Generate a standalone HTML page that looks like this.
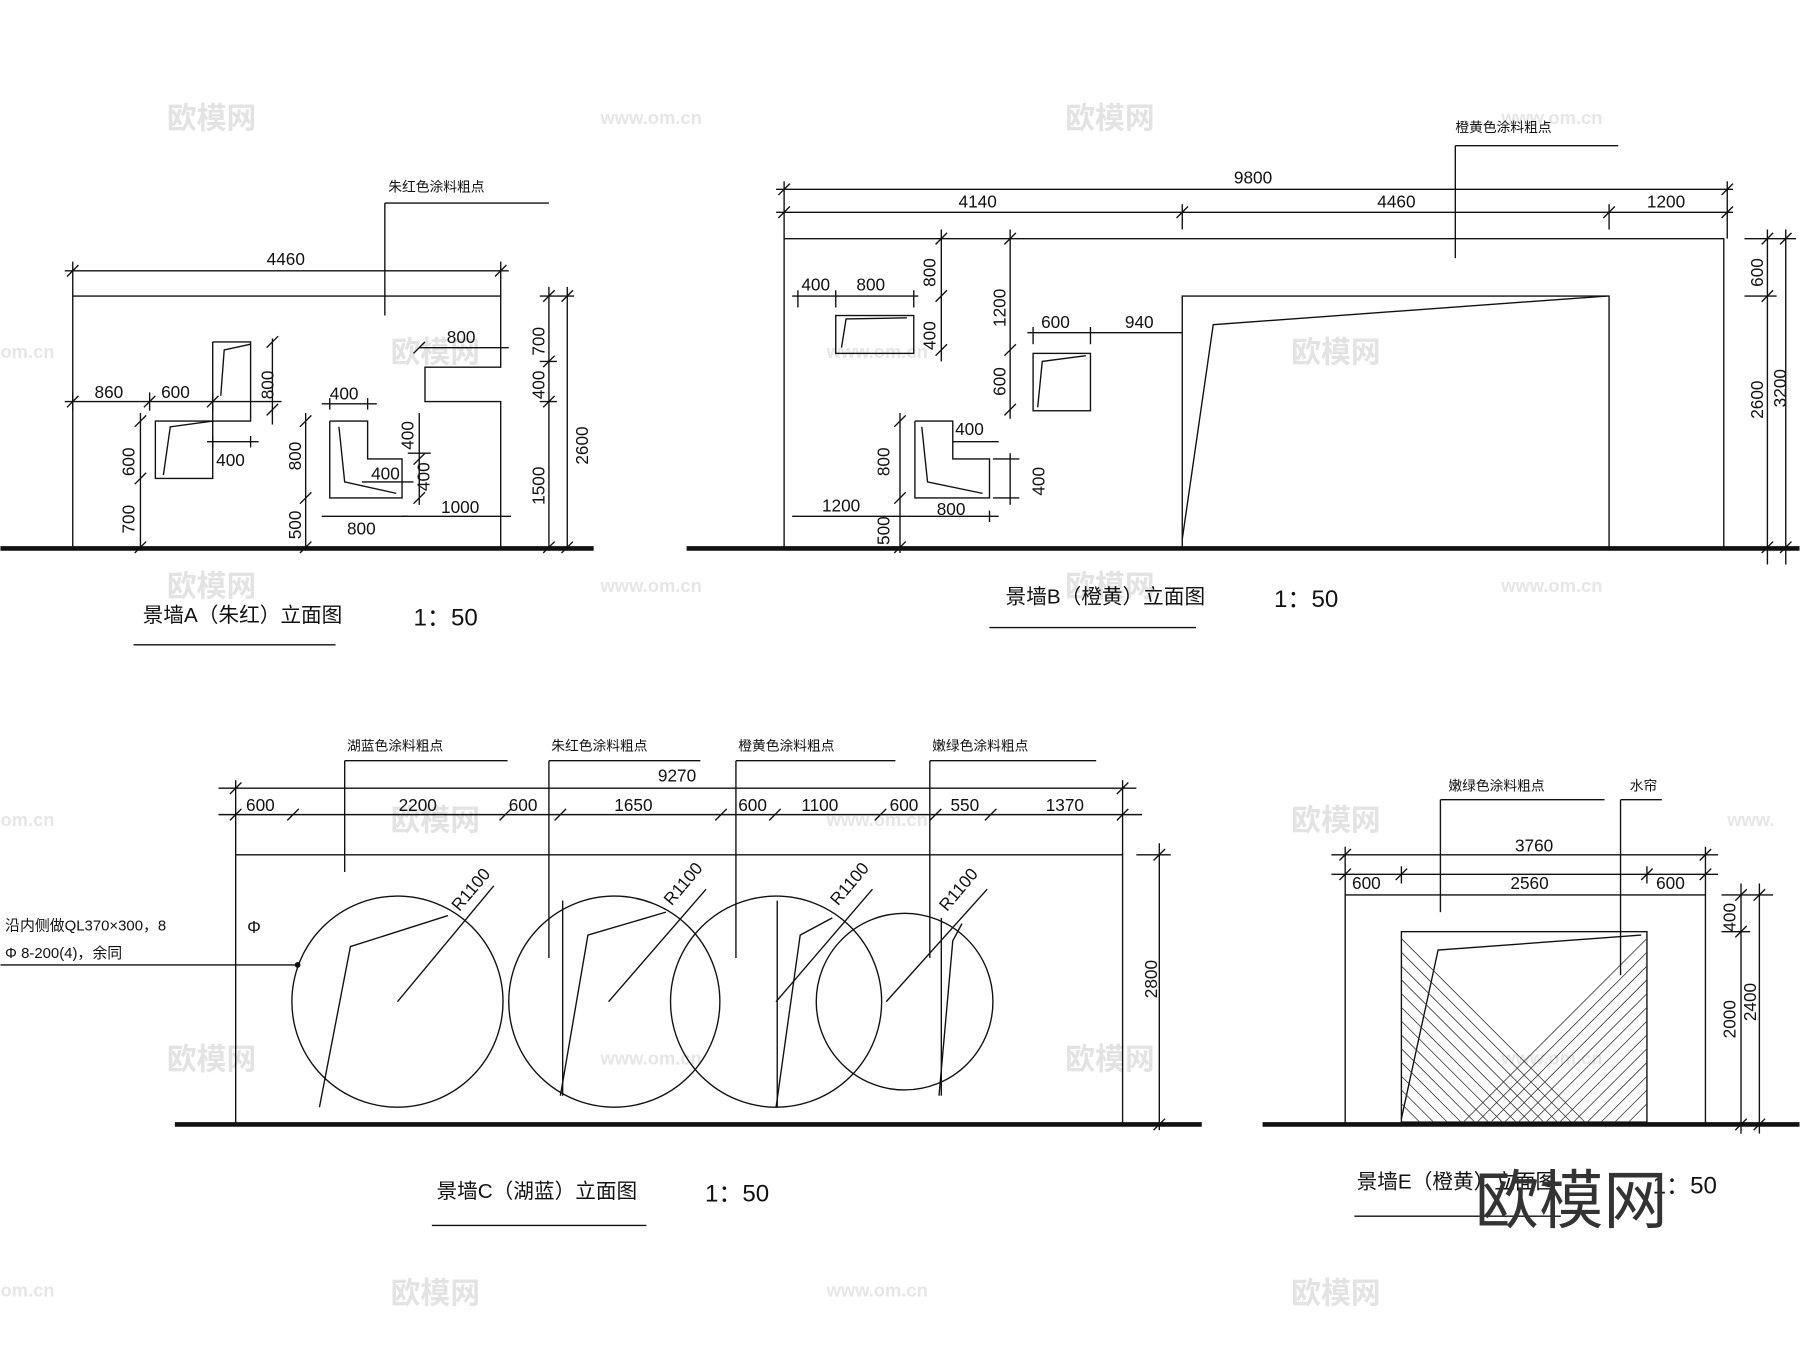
<!DOCTYPE html>
<html><head><meta charset="utf-8"><style>
html,body{margin:0;padding:0;background:#fff;}
svg{display:block}
text{font-family:"Liberation Sans","Noto Sans CJK SC",sans-serif;fill:#111}
.c{font-size:12px}
.d{font-size:15px}
.t{font-size:18px}
.w{fill:#e3e3e3;font-size:26px;font-weight:bold}
.ww{fill:#e6e6e6;font-size:16px;font-weight:bold}
</style></head><body>
<svg width="1800" height="1347" viewBox="0 0 1568 1174" xmlns="http://www.w3.org/2000/svg">
<rect width="1568" height="1174" fill="#fff"/>
<g>
<text class="w" x="145" y="112">欧模网</text><text class="ww" x="523" y="108">www.om.cn</text>
<text class="w" x="928" y="112">欧模网</text><text class="ww" x="1308" y="108">www.om.cn</text>
<text class="ww" x="0" y="312">om.cn</text><text class="w" x="340" y="316">欧模网</text><text class="ww" x="720" y="312">www.om.cn</text><text class="w" x="1125" y="316">欧模网</text>
<text class="w" x="145" y="520">欧模网</text><text class="ww" x="523" y="516">www.om.cn</text><text class="w" x="928" y="520">欧模网</text><text class="ww" x="1308" y="516">www.om.cn</text>
<text class="ww" x="0" y="720">om.cn</text><text class="w" x="340" y="724">欧模网</text><text class="ww" x="720" y="720">www.om.cn</text><text class="w" x="1125" y="724">欧模网</text><text class="ww" x="1505" y="720">www.</text>
<text class="w" x="145" y="932">欧模网</text><text class="ww" x="523" y="928">www.om.cn</text><text class="w" x="928" y="932">欧模网</text><text class="ww" x="1308" y="928">www.om.cn</text>
<text class="ww" x="0" y="1130">om.cn</text><text class="w" x="340" y="1136">欧模网</text><text class="ww" x="720" y="1130">www.om.cn</text><text class="w" x="1125" y="1136">欧模网</text>
</g>
<g stroke="#111" fill="none" stroke-width="1.2">
<line x1="0" y1="478" x2="517" y2="478" stroke-width="4"/>
<polyline points="63,478 63,258 436,258 436,320 370,320 370,350 436,350 436,478"/>
<line x1="56" y1="236" x2="443" y2="236"/><line x1="63" y1="228" x2="63" y2="258"/><line x1="436" y1="228" x2="436" y2="258"/>
<line x1="58" y1="241" x2="68" y2="231"/><line x1="431" y1="241" x2="441" y2="231"/>
<line x1="335" y1="177" x2="478" y2="177"/><line x1="335" y1="177" x2="335" y2="275"/>
<polyline points="185,298 218,298 218,367 185,367 185,417 135,417 135,367 185,367 185,298"/>
<polyline points="192,345 195,305 218,300"/>
<polyline points="142,414 148,372 185,367"/>
<polyline points="287,367 320,367 320,400 350,400 350,434 287,434 287,367"/>
<polyline points="295,372 300,420 345,430"/>
<line x1="56" y1="350" x2="245" y2="350"/><line x1="63" y1="342" x2="63" y2="358"/><line x1="130" y1="342" x2="130" y2="358"/><line x1="185" y1="342" x2="185" y2="358"/>
<line x1="58" y1="355" x2="68" y2="345"/><line x1="125" y1="355" x2="135" y2="345"/><line x1="180" y1="355" x2="190" y2="345"/>
<line x1="237" y1="295" x2="237" y2="370"/><line x1="232" y1="303" x2="242" y2="293"/><line x1="232" y1="362" x2="242" y2="352"/>
<line x1="180" y1="385" x2="225" y2="385"/><line x1="185" y1="380" x2="185" y2="390"/><line x1="218" y1="380" x2="218" y2="390"/>
<line x1="122" y1="360" x2="122" y2="480"/><line x1="117" y1="372" x2="127" y2="362"/><line x1="117" y1="422" x2="127" y2="412"/><line x1="117" y1="482" x2="127" y2="472"/>
<line x1="266" y1="360" x2="266" y2="480"/><line x1="261" y1="372" x2="271" y2="362"/><line x1="261" y1="439" x2="271" y2="429"/><line x1="261" y1="482" x2="271" y2="472"/>
<line x1="280" y1="352" x2="328" y2="352"/><line x1="287" y1="347" x2="287" y2="357"/><line x1="320" y1="347" x2="320" y2="357"/>
<line x1="315" y1="420" x2="360" y2="420"/><line x1="355" y1="395" x2="375" y2="395"/>
<line x1="365" y1="360" x2="365" y2="440"/><line x1="360" y1="405" x2="370" y2="395"/><line x1="360" y1="439" x2="370" y2="429"/>
<line x1="280" y1="450" x2="355" y2="450"/><line x1="350" y1="450" x2="445" y2="450"/>
<line x1="365" y1="303" x2="443" y2="303"/><line x1="360" y1="308" x2="370" y2="298"/>
<line x1="478" y1="250" x2="478" y2="480"/><line x1="494" y1="250" x2="494" y2="480"/>
<line x1="470" y1="258" x2="500" y2="258"/><line x1="470" y1="315" x2="485" y2="315"/><line x1="470" y1="350" x2="485" y2="350"/>
<line x1="473" y1="263" x2="483" y2="253"/><line x1="473" y1="320" x2="483" y2="310"/><line x1="473" y1="355" x2="483" y2="345"/><line x1="473" y1="482" x2="483" y2="472"/>
<line x1="489" y1="263" x2="499" y2="253"/><line x1="489" y1="482" x2="499" y2="472"/>
<line x1="116" y1="562" x2="292" y2="562"/>
<line x1="598" y1="478" x2="1568" y2="478" stroke-width="4"/>
<polyline points="683,478 683,208 1502,208 1502,478"/>
<polyline points="1030,478 1030,258 1402,258 1402,478"/>
<polyline points="1030,470 1057,283 1400,258"/>
<line x1="676" y1="165" x2="1510" y2="165"/><line x1="676" y1="185" x2="1510" y2="185"/>
<line x1="683" y1="158" x2="683" y2="208"/><line x1="1030" y1="178" x2="1030" y2="200"/><line x1="1402" y1="178" x2="1402" y2="200"/><line x1="1505" y1="158" x2="1505" y2="208"/>
<line x1="678" y1="170" x2="688" y2="160"/><line x1="1500" y1="170" x2="1510" y2="160"/>
<line x1="678" y1="190" x2="688" y2="180"/><line x1="1025" y1="190" x2="1035" y2="180"/><line x1="1397" y1="190" x2="1407" y2="180"/><line x1="1500" y1="190" x2="1510" y2="180"/>
<line x1="1268" y1="127" x2="1410" y2="127"/><line x1="1268" y1="127" x2="1268" y2="225"/>
<rect x="728" y="275" width="68" height="33"/><polyline points="733,303 737,278 790,277"/>
<rect x="900" y="308" width="50" height="50"/><polyline points="904,355 908,315 946,310"/>
<polyline points="797,367 830,367 830,400 862,400 862,434 797,434 797,367"/><polyline points="803,372 808,420 856,430"/>
<line x1="690" y1="258" x2="800" y2="258"/><line x1="695" y1="253" x2="695" y2="268"/><line x1="728" y1="253" x2="728" y2="268"/><line x1="796" y1="253" x2="796" y2="268"/>
<line x1="820" y1="200" x2="820" y2="315"/><line x1="815" y1="213" x2="825" y2="203"/><line x1="815" y1="263" x2="825" y2="253"/><line x1="815" y1="310" x2="825" y2="300"/>
<line x1="880" y1="200" x2="880" y2="365"/><line x1="875" y1="213" x2="885" y2="203"/><line x1="875" y1="310" x2="885" y2="300"/><line x1="875" y1="362" x2="885" y2="352"/>
<line x1="895" y1="290" x2="1030" y2="290"/><line x1="900" y1="285" x2="900" y2="300"/><line x1="950" y1="285" x2="950" y2="300"/>
<line x1="784" y1="360" x2="784" y2="482"/><line x1="779" y1="372" x2="789" y2="362"/><line x1="779" y1="439" x2="789" y2="429"/><line x1="779" y1="482" x2="789" y2="472"/>
<line x1="690" y1="450" x2="790" y2="450"/><line x1="790" y1="450" x2="870" y2="450"/><line x1="862" y1="445" x2="862" y2="455"/>
<line x1="830" y1="385" x2="870" y2="385"/><line x1="880" y1="395" x2="880" y2="440"/><line x1="865" y1="400" x2="888" y2="400"/><line x1="865" y1="434" x2="888" y2="434"/>
<line x1="1540" y1="200" x2="1540" y2="492"/><line x1="1556" y1="200" x2="1556" y2="492"/>
<line x1="1520" y1="208" x2="1565" y2="208"/><line x1="1520" y1="258" x2="1548" y2="258"/>
<line x1="1535" y1="213" x2="1545" y2="203"/><line x1="1535" y1="263" x2="1545" y2="253"/><line x1="1535" y1="482" x2="1545" y2="472"/><line x1="1551" y1="213" x2="1561" y2="203"/><line x1="1551" y1="482" x2="1561" y2="472"/>
<line x1="862" y1="547" x2="1042" y2="547"/>
<line x1="152" y1="980" x2="1047" y2="980" stroke-width="4"/>
<polyline points="205,980 205,745 978,745 978,980"/>
<circle cx="346" cy="873" r="92"/><circle cx="535" cy="873" r="92"/><circle cx="676" cy="873" r="92"/><circle cx="788" cy="873" r="77"/>
<polyline points="278,965 305,825 390,798"/><line x1="346" y1="873" x2="430" y2="772"/>
<polyline points="488,955 512,815 580,795"/><line x1="530" y1="873" x2="615" y2="775"/>
<polyline points="676,965 697,815 725,800"/><line x1="676" y1="873" x2="760" y2="775"/>
<polyline points="818,955 830,820 838,805"/><line x1="772" y1="873" x2="860" y2="775"/>
<line x1="490" y1="785" x2="490" y2="955"/><line x1="677" y1="785" x2="677" y2="965"/><line x1="820" y1="800" x2="820" y2="955"/>
<line x1="190" y1="687" x2="990" y2="687"/><line x1="190" y1="710" x2="995" y2="710"/>
<line x1="205" y1="680" x2="205" y2="745"/><line x1="978" y1="680" x2="978" y2="745"/>
<line x1="200" y1="692" x2="210" y2="682"/><line x1="973" y1="692" x2="983" y2="682"/>
<g>
<line x1="200" y1="715" x2="210" y2="705"/><line x1="250" y1="715" x2="260" y2="705"/><line x1="435" y1="715" x2="445" y2="705"/><line x1="483" y1="715" x2="493" y2="705"/><line x1="623" y1="715" x2="633" y2="705"/><line x1="670" y1="715" x2="680" y2="705"/><line x1="762" y1="715" x2="772" y2="705"/><line x1="810" y1="715" x2="820" y2="705"/><line x1="858" y1="715" x2="868" y2="705"/><line x1="973" y1="715" x2="983" y2="705"/>
</g>
<line x1="300" y1="663" x2="442" y2="663"/><line x1="300" y1="663" x2="300" y2="760"/>
<line x1="478" y1="663" x2="610" y2="663"/><line x1="478" y1="663" x2="478" y2="835"/>
<line x1="641" y1="663" x2="780" y2="663"/><line x1="641" y1="663" x2="641" y2="835"/>
<line x1="810" y1="663" x2="955" y2="663"/><line x1="810" y1="663" x2="810" y2="835"/>
<line x1="0" y1="841" x2="258" y2="841"/>
<line x1="1010" y1="735" x2="1010" y2="985"/><line x1="990" y1="745" x2="1020" y2="745"/><line x1="1005" y1="750" x2="1015" y2="740"/><line x1="1005" y1="985" x2="1015" y2="975"/>
<line x1="376" y1="1068" x2="563" y2="1068"/>
<line x1="1100" y1="980" x2="1568" y2="980" stroke-width="4"/>
<polyline points="1172,980 1172,780 1486,780 1486,980"/>
<rect x="1221" y="812" width="214" height="166"/>
<polyline points="1221,975 1253,828 1430,815"/>
<g stroke-width="0.7" stroke="#333" clip-path="url(#ce)">
<path d="M1221,818 L1381,978 M1221,830 L1369,978 M1221,842 L1357,978 M1221,854 L1345,978 M1221,866 L1333,978 M1221,878 L1321,978 M1221,890 L1309,978 M1221,902 L1297,978 M1221,914 L1285,978 M1221,926 L1273,978 M1221,938 L1261,978 M1221,950 L1249,978 M1221,962 L1237,978"/>
<path d="M1435,818 L1275,978 M1435,830 L1287,978 M1435,842 L1299,978 M1435,854 L1311,978 M1435,866 L1323,978 M1435,878 L1335,978 M1435,890 L1347,978 M1435,902 L1359,978 M1435,914 L1371,978 M1435,926 L1383,978 M1435,938 L1395,978 M1435,950 L1407,978 M1435,962 L1419,978"/>
</g>
<line x1="1160" y1="745" x2="1497" y2="745"/><line x1="1160" y1="762" x2="1497" y2="762"/>
<line x1="1172" y1="738" x2="1172" y2="780"/><line x1="1221" y1="755" x2="1221" y2="770"/><line x1="1435" y1="755" x2="1435" y2="770"/><line x1="1486" y1="738" x2="1486" y2="780"/>
<line x1="1167" y1="750" x2="1177" y2="740"/><line x1="1481" y1="750" x2="1491" y2="740"/><line x1="1167" y1="767" x2="1177" y2="757"/><line x1="1216" y1="767" x2="1226" y2="757"/><line x1="1430" y1="767" x2="1440" y2="757"/><line x1="1481" y1="767" x2="1491" y2="757"/>
<line x1="1255" y1="697" x2="1398" y2="697"/><line x1="1255" y1="697" x2="1255" y2="795"/>
<line x1="1412" y1="697" x2="1448" y2="697"/><line x1="1412" y1="697" x2="1412" y2="850"/>
<line x1="1517" y1="770" x2="1517" y2="988"/><line x1="1533" y1="770" x2="1533" y2="988"/>
<line x1="1500" y1="780" x2="1545" y2="780"/><line x1="1500" y1="812" x2="1525" y2="812"/>
<line x1="1512" y1="785" x2="1522" y2="775"/><line x1="1512" y1="817" x2="1522" y2="807"/><line x1="1512" y1="985" x2="1522" y2="975"/><line x1="1528" y1="785" x2="1538" y2="775"/><line x1="1528" y1="985" x2="1538" y2="975"/>
<line x1="1180" y1="1060" x2="1360" y2="1060"/>
</g>
<defs><clipPath id="ce"><rect x="1221" y="812" width="214" height="166"/></clipPath></defs>
<circle cx="259" cy="841" r="2.5" fill="#111"/>
<text class="c" x="338" y="167">朱红色涂料粗点</text>
<text class="d" x="232" y="231">4460</text>
<text class="d" x="82" y="347">860</text><text class="d" x="140" y="347">600</text>
<text class="d" x="389" y="299">800</text>
<text class="d" x="287" y="348">400</text>
<text class="d" x="188" y="406">400</text>
<text class="d" x="323" y="418">400</text>
<text class="d" x="384" y="447">1000</text>
<text class="d" x="302" y="466">800</text>
<g class="d">
<text transform="translate(238,348) rotate(-90)">800</text>
<text transform="translate(117,415) rotate(-90)">600</text>
<text transform="translate(117,465) rotate(-90)">700</text>
<text transform="translate(262,410) rotate(-90)">800</text>
<text transform="translate(262,470) rotate(-90)">500</text>
<text transform="translate(360,392) rotate(-90)">400</text>
<text transform="translate(374,428) rotate(-90)">400</text>
<text transform="translate(474,310) rotate(-90)">700</text>
<text transform="translate(474,348) rotate(-90)">400</text>
<text transform="translate(474,440) rotate(-90)">1500</text>
<text transform="translate(512,405) rotate(-90)">2600</text>
</g>
<text class="t" x="124" y="542">景墙A（朱红）立面图</text>
<text class="t" x="360" y="545" style="font-size:21px">1：50</text>
<text class="c" x="1268" y="115">橙黄色涂料粗点</text>
<text class="d" x="1075" y="160">9800</text>
<text class="d" x="835" y="181">4140</text><text class="d" x="1200" y="181">4460</text><text class="d" x="1435" y="181">1200</text>
<text class="d" x="698" y="253">400</text><text class="d" x="746" y="253">800</text>
<text class="d" x="907" y="286">600</text><text class="d" x="980" y="286">940</text>
<text class="d" x="832" y="379">400</text>
<text class="d" x="716" y="446">1200</text><text class="d" x="816" y="449">800</text>
<g class="d">
<text transform="translate(815,250) rotate(-90)">800</text>
<text transform="translate(815,305) rotate(-90)">400</text>
<text transform="translate(876,285) rotate(-90)">1200</text>
<text transform="translate(876,345) rotate(-90)">600</text>
<text transform="translate(775,415) rotate(-90)">800</text>
<text transform="translate(775,475) rotate(-90)">500</text>
<text transform="translate(910,432) rotate(-90)">400</text>
<text transform="translate(1536,250) rotate(-90)">600</text>
<text transform="translate(1536,365) rotate(-90)">2600</text>
<text transform="translate(1556,355) rotate(-90)">3200</text>
</g>
<text class="t" x="876" y="526">景墙B（橙黄）立面图</text>
<text class="t" x="1110" y="529" style="font-size:21px">1：50</text>
<text class="c" x="302" y="654">湖蓝色涂料粗点</text>
<text class="c" x="480" y="654">朱红色涂料粗点</text>
<text class="c" x="643" y="654">橙黄色涂料粗点</text>
<text class="c" x="812" y="654">嫩绿色涂料粗点</text>
<text class="d" x="573" y="681">9270</text>
<text class="d" x="214" y="707">600</text><text class="d" x="347" y="707">2200</text><text class="d" x="443" y="707">600</text><text class="d" x="535" y="707">1650</text><text class="d" x="643" y="707">600</text><text class="d" x="698" y="707">1100</text><text class="d" x="775" y="707">600</text><text class="d" x="828" y="707">550</text><text class="d" x="911" y="707">1370</text>
<g class="d">
<text transform="translate(400,795) rotate(-50)">R1100</text>
<text transform="translate(585,790) rotate(-50)">R1100</text>
<text transform="translate(730,790) rotate(-50)">R1100</text>
<text transform="translate(825,795) rotate(-50)">R1100</text>
<text transform="translate(1008,870) rotate(-90)">2800</text>
</g>
<text class="c" x="4" y="811" style="font-size:13px">沿内侧做QL370×300，8</text>
<text class="c" x="4" y="835" style="font-size:13px">Φ 8-200(4)，余同</text>
<text class="d" x="215" y="813">Φ</text>
<text class="t" x="380" y="1044">景墙C（湖蓝）立面图</text>
<text class="t" x="614" y="1047" style="font-size:21px">1：50</text>
<text class="c" x="1262" y="689">嫩绿色涂料粗点</text>
<text class="c" x="1420" y="689">水帘</text>
<text class="d" x="1320" y="742">3760</text>
<text class="d" x="1178" y="775">600</text><text class="d" x="1316" y="775">2560</text><text class="d" x="1443" y="775">600</text>
<g class="d">
<text transform="translate(1512,812) rotate(-90)">400</text>
<text transform="translate(1512,905) rotate(-90)">2000</text>
<text transform="translate(1530,890) rotate(-90)">2400</text>
</g>
<text class="t" x="1182" y="1036">景墙E（橙黄）立面图</text>
<text class="t" x="1440" y="1040" style="font-size:21px">1：50</text>
<text x="1285" y="1066" style="font-size:56px;fill:#333;font-family:'Noto Sans CJK SC',sans-serif">欧模网</text>
</svg>
</body></html>
